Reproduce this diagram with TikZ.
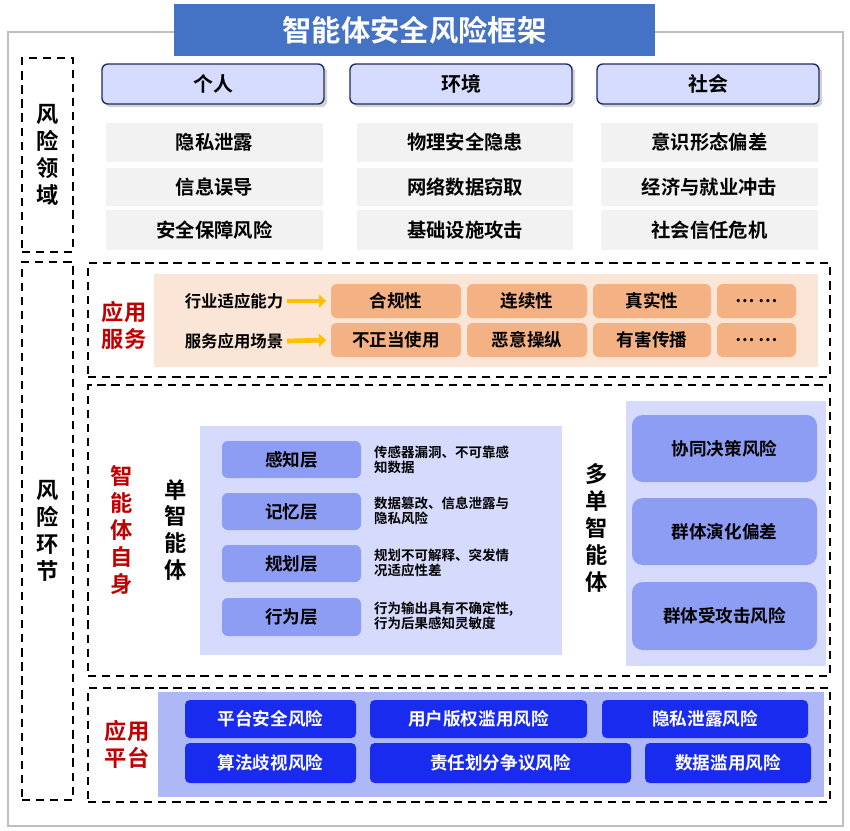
\documentclass[tikz,border=0pt]{standalone}
\usepackage{fontspec}
\setmainfont{Noto Sans CJK SC}[BoldFont={Noto Sans CJK SC Bold}]
\usetikzlibrary{shadows,arrows.meta}
\definecolor{titleblue}{HTML}{4472C4}
\definecolor{headfill}{HTML}{D6DCFF}
\definecolor{navy}{HTML}{1F2A60}
\definecolor{grayfill}{HTML}{F2F2F2}
\definecolor{tanfill}{HTML}{FBE5D6}
\definecolor{orangefill}{HTML}{F4B183}
\definecolor{lavfill}{HTML}{D6DBFE}
\definecolor{layerfill}{HTML}{8E9DF4}
\definecolor{platfill}{HTML}{AEB8F6}
\definecolor{platblue}{HTML}{1A2BF0}
\definecolor{riskred}{HTML}{C00000}
\definecolor{arrowyellow}{HTML}{FFC000}
\newcommand\bx[7]{\node[#1,minimum width={(#5-#3)*0.03cm},minimum height={(#6-#4)*0.03cm}] (#2) at ({(#3+#5)/2},{(#4+#6)/2}) {#7};}
\tikzset{
  base/.style={inner sep=0pt,font=\bfseries},
  head/.style={base,draw=navy,line width=1.2pt,fill=headfill,rounded corners=5pt,drop shadow={opacity=0.35},font=\bfseries\fontsize{17}{17}\selectfont},
  graybox/.style={base,fill=grayfill,font=\bfseries\fontsize{16.5}{16.5}\selectfont},
  dashbox/.style={base,draw=black,line width=1.6pt,dash pattern=on 7pt off 5pt},
  orangebox/.style={base,fill=orangefill,rounded corners=5pt,font=\bfseries\fontsize{15}{15}\selectfont},
  layerbox/.style={base,fill=layerfill,rounded corners=5pt,font=\bfseries\fontsize{15}{15}\selectfont},
  multibox/.style={base,fill=layerfill,rounded corners=9pt,font=\bfseries\fontsize{15}{15}\selectfont},
  platbox/.style={base,fill=platblue,text=white,rounded corners=4pt,font=\bfseries\fontsize{15}{15}\selectfont},
  vlabel/.style={base,align=center,font=\bfseries\fontsize{19}{23}\selectfont},
  desc/.style={base,align=left,anchor=west,font=\bfseries\fontsize{11.5}{13}\selectfont},
  yarrow/.style={draw=arrowyellow,line width=4pt,-{Triangle[length=6pt,width=11pt]}}
}
\begin{document}
\begin{tikzpicture}[x=0.03cm,y=-0.03cm]
  \useasboundingbox (0,0) rectangle (850,830);
  % frame and title
  \bx{base,draw=black!25,line width=2pt}{frame}{8}{32}{843}{826}{}
  \bx{base,fill=titleblue,text=white,font=\bfseries\fontsize{25}{25}\selectfont}{title}{174}{4}{655}{56}{智能体安全风险框架}
  % left column
  \bx{dashbox}{domain}{22}{58}{73}{252}{}
  \node[vlabel] (domaintxt) at (domain) {风\\险\\领\\域};
  \bx{dashbox}{chain}{22}{262}{73}{800}{}
  \node[vlabel] (chaintxt) at (chain) {风\\险\\环\\节};
  % risk domains
  \bx{head}{person}{102}{64}{324}{104}{个人}
  \bx{head}{env}{350}{64}{572}{104}{环境}
  \bx{head}{society}{597}{64}{819}{104}{社会}
  \bx{graybox}{p1}{106}{123}{323}{162}{隐私泄露}
  \bx{graybox}{p2}{106}{168}{323}{206}{信息误导}
  \bx{graybox}{p3}{106}{210}{323}{250}{安全保障风险}
  \bx{graybox}{e1}{357}{123}{573}{162}{物理安全隐患}
  \bx{graybox}{e2}{357}{168}{573}{206}{网络数据窃取}
  \bx{graybox}{e3}{357}{210}{573}{250}{基础设施攻击}
  \bx{graybox}{s1}{601}{123}{818}{162}{意识形态偏差}
  \bx{graybox}{s2}{601}{168}{818}{206}{经济与就业冲击}
  \bx{graybox}{s3}{601}{210}{818}{250}{社会信任危机}
  % application service
  \bx{dashbox}{service}{88}{263}{830}{377}{}
  \node[vlabel,text=riskred] (servicetxt) at (124,325) {应用\\服务};
  \bx{base,fill=tanfill}{servicepanel}{154}{274}{818}{367}{}
  \node[base,font=\bfseries\fontsize{14}{14}\selectfont] (ability) at (234,301) {行业适应能力};
  \node[base,font=\bfseries\fontsize{14}{14}\selectfont] (scene) at (234,341) {服务应用场景};
  \bx{orangebox}{o1}{331}{284}{461}{318}{合规性}
  \bx{orangebox}{o2}{467}{284}{587}{318}{连续性}
  \bx{orangebox}{o3}{593}{284}{711}{318}{真实性}
  \bx{orangebox}{o4}{717}{284}{796}{318}{… …}
  \bx{orangebox}{o5}{331}{323}{461}{357}{不正当使用}
  \bx{orangebox}{o6}{467}{323}{587}{357}{恶意操纵}
  \bx{orangebox}{o7}{593}{323}{711}{357}{有害传播}
  \bx{orangebox}{o8}{717}{323}{796}{357}{… …}
  \draw[yarrow] ([xshift=3pt]ability.east) -- ([xshift=-4pt]o1.west);
  \draw[yarrow] ([xshift=3pt]scene.east) -- ([xshift=-4pt]o5.west);
  % agent itself
  \bx{dashbox}{agent}{88}{385}{830}{676}{}
  \node[vlabel,text=riskred] (agenttxt) at (122,530) {智\\能\\体\\自\\身};
  \node[vlabel] (singletxt) at (176,530) {单\\智\\能\\体};
  \bx{base,fill=lavfill}{singlepanel}{200}{426}{562}{655}{}
  \bx{layerbox}{l1}{222}{441}{361}{478}{感知层}
  \bx{layerbox}{l2}{222}{493}{361}{530}{记忆层}
  \bx{layerbox}{l3}{222}{545}{361}{582}{规划层}
  \bx{layerbox}{l4}{222}{598}{361}{636}{行为层}
  \node[desc] (d1) at (374,460) {传感器漏洞、不可靠感\\知数据};
  \node[desc] (d2) at (374,511) {数据篡改、信息泄露与\\隐私风险};
  \node[desc] (d3) at (374,563) {规划不可解释、突发情\\况适应性差};
  \node[desc] (d4) at (374,616) {行为输出具有不确定性,\\行为后果感知灵敏度};
  \node[vlabel] (multitxt) at (597,528) {多\\单\\智\\能\\体};
  \bx{base,fill=lavfill}{multipanel}{626}{401}{826}{666}{}
  \bx{multibox}{m1}{632}{415}{817}{482}{协同决策风险}
  \bx{multibox}{m2}{632}{498}{817}{565}{群体演化偏差}
  \bx{multibox}{m3}{632}{582}{817}{650}{群体受攻击风险}
  % application platform
  \bx{dashbox}{platform}{88}{688}{830}{802}{}
  \node[vlabel,text=riskred] (platformtxt) at (127,744) {应用\\平台};
  \bx{base,fill=platfill}{platpanel}{158}{692}{824}{797}{}
  \bx{platbox}{t1}{185}{700}{356}{738}{平台安全风险}
  \bx{platbox}{t2}{370}{700}{587}{738}{用户版权滥用风险}
  \bx{platbox}{t3}{602}{700}{808}{738}{隐私泄露风险}
  \bx{platbox}{t4}{185}{743}{356}{783}{算法歧视风险}
  \bx{platbox}{t5}{370}{743}{631}{783}{责任划分争议风险}
  \bx{platbox}{t6}{645}{743}{811}{783}{数据滥用风险}
\end{tikzpicture}
\end{document}
